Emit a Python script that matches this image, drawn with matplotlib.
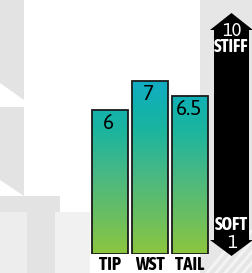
import matplotlib.pyplot as plt
import numpy as np
from matplotlib.colors import LinearSegmentedColormap
from matplotlib.patches import Polygon

# data
parts = ["TIP", "WST", "TAIL"]
flex = [6, 7, 6.5]
flex_labels = ["6", "7", "6.5"]
scale_top = ["10", "STIFF"]
scale_bottom = ["SOFT", "1"]

cond = ['Asap Condensed', 'Noto Sans', 'DejaVu Sans']
reg = ['Asap', 'Noto Sans', 'DejaVu Sans']
plt.rcParams['font.family'] = reg

fig = plt.figure(figsize=(2.52, 2.73), dpi=100)

# background layer in pixel coords
bg = fig.add_axes([0, 0, 1, 1])
bg.set_xlim(0, 252)
bg.set_ylim(273, 0)
bg.axis('off')
grey = '#e3e3e3'
light = '#ededed'
for pts, c in [
    ([(0, 0), (24, 0), (24, 100), (0, 83)], grey),
    ([(0, 107), (24, 107), (24, 196), (0, 180)], grey),
    ([(0, 196), (60, 196), (60, 212), (0, 212)], grey),
    ([(0, 212), (27, 212), (27, 273), (0, 273)], light),
    ([(27, 212), (55, 212), (55, 273), (27, 273)], grey),
    ([(55, 212), (90, 212), (90, 273), (55, 273)], '#f1f1f1'),
    ([(200, 0), (252, 0), (252, 273), (200, 273)], '#e6e6e6'),
]:
    bg.add_patch(Polygon(pts, closed=True, facecolor=c, edgecolor='none'))
# diagonal light stripes bottom right
for k in range(6):
    x0 = 205 + k * 9
    bg.add_patch(Polygon([(x0, 273), (x0 + 4, 273), (x0 + 40, 230), (x0 + 36, 230)],
                         closed=True, facecolor='#f4f4f4', edgecolor='none'))

# stiffness arrow
arrow = [(231.5, 13), (253, 30), (249, 30), (249, 240), (253, 240), (231.5, 256),
         (210, 240), (214, 240), (214, 30), (210, 30)]
bg.add_patch(Polygon(arrow, closed=True, facecolor='black', edgecolor='none'))
bg.text(231.5, 30.5, scale_top[0], color='white', fontsize=13, ha='center', va='center')
bg.text(231.5, 47.5, scale_top[1], color='white', fontsize=13, fontweight='bold',
        family=cond, ha='center', va='center')
bg.text(231.5, 225, scale_bottom[0], color='white', fontsize=13, fontweight='bold',
        family=cond, ha='center', va='center')
bg.text(231.5, 242.5, scale_bottom[1], color='white', fontsize=13, ha='center', va='center')

# bars
ax = fig.add_axes([90 / 252, 19 / 273, 120 / 252, 201.6 / 273])
ax.patch.set_alpha(0)
ax.set_xlim(-0.5, 2.5)
ax.set_ylim(1, 8)
x = np.arange(len(parts))
bars = ax.bar(x, np.array(flex) - 1, bottom=1, width=0.9, facecolor='none',
              edgecolor='#1a1a1a', linewidth=1.3, zorder=3)

cmap = LinearSegmentedColormap.from_list('flex', [
    (0.0, '#8dc63f'),
    (0.2, '#6cbf5f'),
    (0.45, '#48b884'),
    (0.68, '#1db59d'),
    (0.82, '#12b2ad'),
    (1.0, '#12abc9'),
])
grad = np.linspace(0, 1, 256).reshape(-1, 1)
for b in bars:
    im = ax.imshow(grad, cmap=cmap, origin='lower', aspect='auto',
                   extent=(-0.5, 2.5, 1, 7.2), zorder=2)
    im.set_clip_path(b)

for xi, v, lab in zip(x, flex, flex_labels):
    ax.text(xi - 0.03, v - 0.45, lab, fontsize=15, ha='center', va='center', zorder=4)

ax.set_xticks(x)
ax.set_xticklabels(parts, fontsize=13.5, fontweight='bold', family=cond)
ax.tick_params(length=0, pad=1.5)
ax.set_yticks([])
for s in ax.spines.values():
    s.set_visible(False)

fig.savefig('out.png', dpi=100)
